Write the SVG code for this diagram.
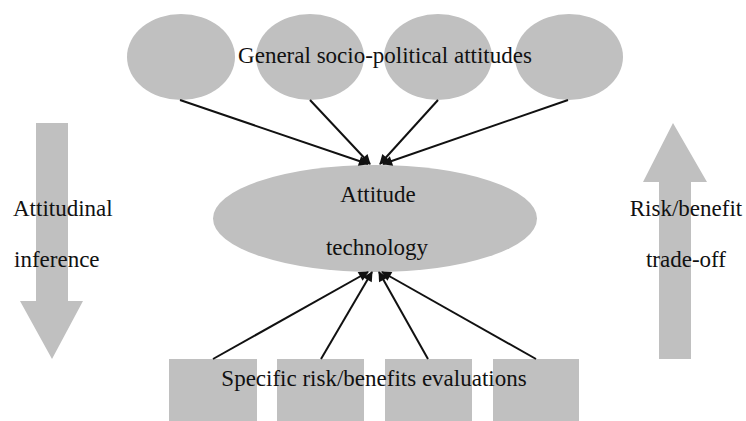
<svg xmlns="http://www.w3.org/2000/svg" width="746" height="421" viewBox="0 0 746 421">
<style>
.shape{fill:#c0c0c0;stroke:none}
.lbl{font-family:"Liberation Serif","Times New Roman",serif;font-size:23px;fill:#111}
.edge{stroke:#111;stroke-width:2;fill:none;marker-end:url(#ah)}
</style>
<defs>
<marker id="ah" viewBox="0 0 10 10" refX="9" refY="5" markerWidth="6" markerHeight="5" orient="auto" markerUnits="strokeWidth">
<path d="M0,0 L10,5 L0,10 Z" fill="#111"/>
</marker>
</defs>
<rect width="746" height="421" fill="#fff"/>
<g id="general-attitudes">
<ellipse class="shape" cx="181" cy="57" rx="54" ry="43"/>
<ellipse class="shape" cx="310" cy="57" rx="54" ry="43"/>
<ellipse class="shape" cx="438" cy="57" rx="54" ry="43"/>
<ellipse class="shape" cx="569" cy="57" rx="54" ry="43"/>
<text class="lbl" x="385" y="63" text-anchor="middle">General socio-political attitudes</text>
</g>
<g id="attitude-technology">
<ellipse class="shape" cx="375" cy="218.5" rx="162" ry="53.5"/>
<text class="lbl" x="378" y="202" text-anchor="middle">Attitude</text>
<text class="lbl" x="377" y="255" text-anchor="middle">technology</text>
</g>
<g id="specific-evaluations">
<rect class="shape" x="169" y="359" width="88" height="62"/>
<rect class="shape" x="277" y="359" width="87" height="62"/>
<rect class="shape" x="385" y="359" width="87" height="62"/>
<rect class="shape" x="493" y="359" width="86" height="62"/>
<text class="lbl" x="374" y="386" text-anchor="middle">Specific risk/benefits evaluations</text>
</g>
<g id="attitudinal-inference">
<polygon class="shape" points="36,123 68,123 68,301 83,301 52,359 20,301 36,301"/>
<text class="lbl" x="13" y="216">Attitudinal</text>
<text class="lbl" x="14" y="267">inference</text>
</g>
<g id="risk-benefit-tradeoff">
<polygon class="shape" points="673,123 707,182 691,182 691,359 659,359 659,182 643,182"/>
<text class="lbl" x="686" y="216" text-anchor="middle">Risk/benefit</text>
<text class="lbl" x="686" y="267" text-anchor="middle">trade-off</text>
</g>
<g id="connectors">
<line class="edge" x1="180" y1="100" x2="368" y2="164"/>
<line class="edge" x1="310" y1="100" x2="370" y2="164"/>
<line class="edge" x1="438" y1="100" x2="380" y2="164"/>
<line class="edge" x1="568" y1="100" x2="383" y2="164"/>
<line class="edge" x1="213" y1="359" x2="368" y2="272"/>
<line class="edge" x1="321" y1="359" x2="372" y2="272"/>
<line class="edge" x1="428" y1="359" x2="379" y2="272"/>
<line class="edge" x1="536" y1="359" x2="382" y2="272"/>
</g>
</svg>
